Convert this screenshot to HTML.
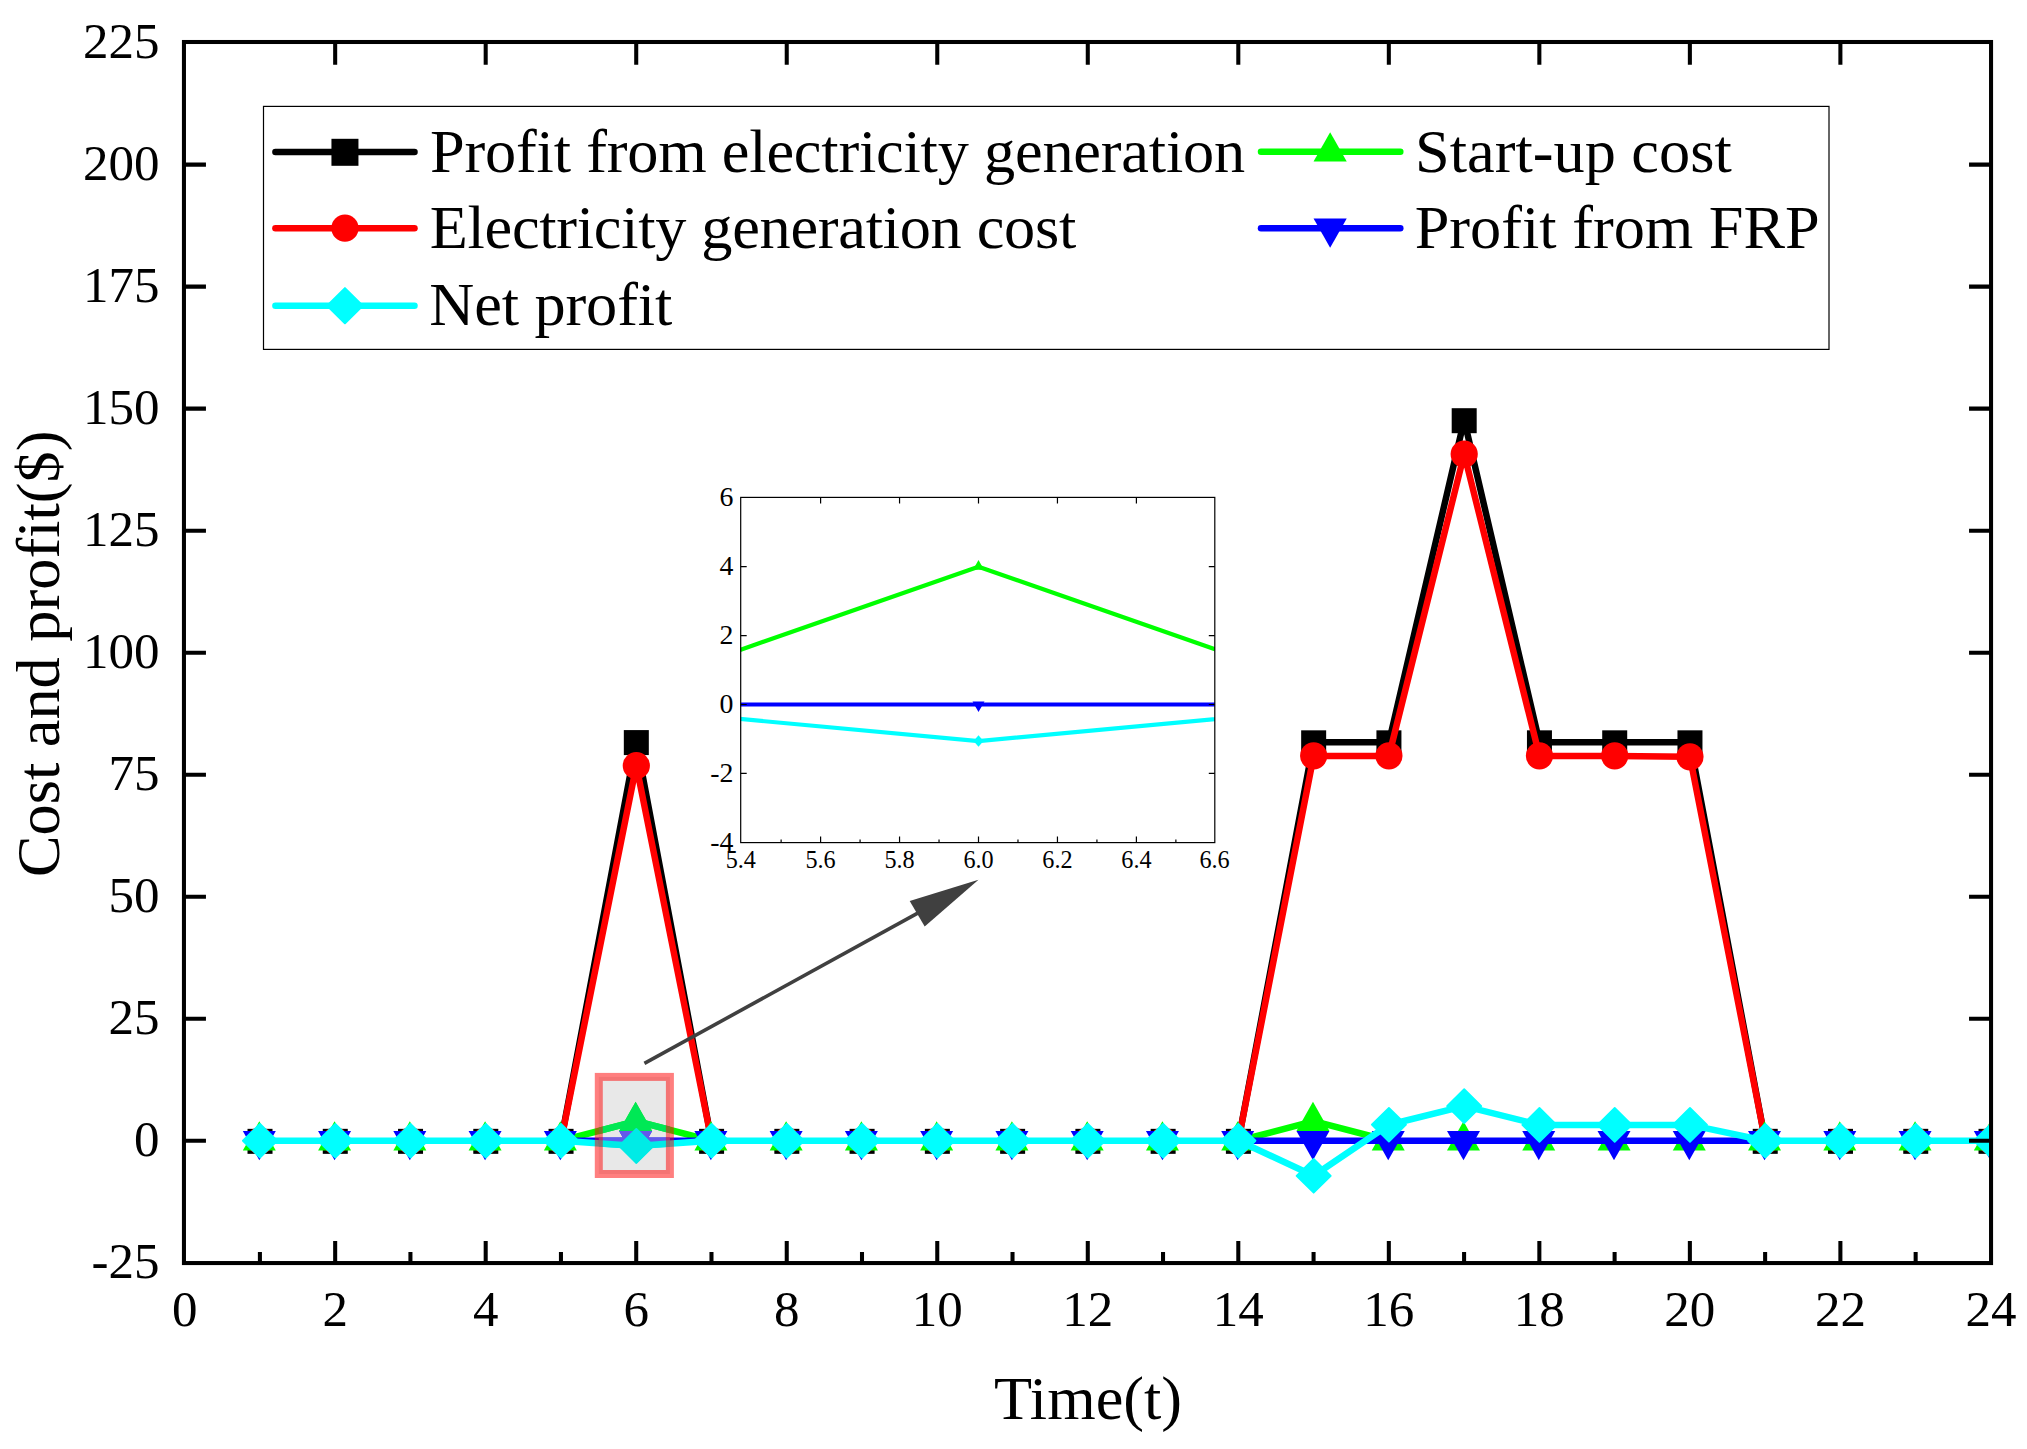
<!DOCTYPE html>
<html lang="en"><head><meta charset="utf-8"><title>Cost and profit</title>
<style>html,body{margin:0;padding:0;background:#fff}svg{display:block}text{font-family:"Liberation Serif",serif;fill:#000;font-variant-ligatures:none}</style>
</head><body>
<svg width="2027" height="1449" viewBox="0 0 2027 1449">
<rect width="2027" height="1449" fill="#fff"/>
<defs><clipPath id="pc"><rect x="183.95" y="42" width="1807.1" height="1221.05"/></clipPath>
<clipPath id="ic"><rect x="740.7" y="497.4" width="474.1" height="345.2"/></clipPath></defs>
<g clip-path="url(#pc)" stroke-linejoin="round" stroke-linecap="round">
<path fill="none" stroke="#000" stroke-width="6.5" d="M561.05 1140.74L636.32 741.99L711.58 1140.74M1238.4 1140.74L1313.66 742.23L1388.93 742.23L1464.19 420.1L1539.45 742.23L1614.71 742.23L1689.97 742.23L1765.23 1140.74"/>
<g fill="#000" stroke="#000" stroke-width="0"><rect x="247.51" y="1128.84" width="25" height="25"/><rect x="322.77" y="1128.84" width="25" height="25"/><rect x="398.03" y="1128.84" width="25" height="25"/><rect x="473.29" y="1128.84" width="25" height="25"/><rect x="548.55" y="1128.84" width="25" height="25"/><rect x="623.82" y="730.09" width="25" height="25"/><rect x="699.08" y="1128.84" width="25" height="25"/><rect x="774.34" y="1128.84" width="25" height="25"/><rect x="849.6" y="1128.84" width="25" height="25"/><rect x="924.86" y="1128.84" width="25" height="25"/><rect x="1000.12" y="1128.84" width="25" height="25"/><rect x="1075.38" y="1128.84" width="25" height="25"/><rect x="1150.64" y="1128.84" width="25" height="25"/><rect x="1225.9" y="1128.84" width="25" height="25"/><rect x="1301.16" y="730.33" width="25" height="25"/><rect x="1376.43" y="730.33" width="25" height="25"/><rect x="1451.69" y="408.2" width="25" height="25"/><rect x="1526.95" y="730.33" width="25" height="25"/><rect x="1602.21" y="730.33" width="25" height="25"/><rect x="1677.47" y="730.33" width="25" height="25"/><rect x="1752.73" y="1128.84" width="25" height="25"/><rect x="1827.99" y="1128.84" width="25" height="25"/><rect x="1903.25" y="1128.84" width="25" height="25"/><rect x="1978.51" y="1128.84" width="25" height="25"/></g>
<path fill="none" stroke="#f00" stroke-width="6.5" d="M561.05 1140.74L636.32 765.66L711.58 1140.74M1238.4 1140.74L1313.66 755.9L1388.93 755.9L1464.19 454.03L1539.45 755.9L1614.71 755.9L1689.97 756.78L1765.23 1140.74"/>
<g fill="#f00" stroke="#f00" stroke-width="0"><circle cx="260.01" cy="1140.74" r="13.6"/><circle cx="335.27" cy="1140.74" r="13.6"/><circle cx="410.53" cy="1140.74" r="13.6"/><circle cx="485.79" cy="1140.74" r="13.6"/><circle cx="561.05" cy="1140.74" r="13.6"/><circle cx="636.32" cy="765.66" r="13.6"/><circle cx="711.58" cy="1140.74" r="13.6"/><circle cx="786.84" cy="1140.74" r="13.6"/><circle cx="862.1" cy="1140.74" r="13.6"/><circle cx="937.36" cy="1140.74" r="13.6"/><circle cx="1012.62" cy="1140.74" r="13.6"/><circle cx="1087.88" cy="1140.74" r="13.6"/><circle cx="1163.14" cy="1140.74" r="13.6"/><circle cx="1238.4" cy="1140.74" r="13.6"/><circle cx="1313.66" cy="755.9" r="13.6"/><circle cx="1388.93" cy="755.9" r="13.6"/><circle cx="1464.19" cy="454.03" r="13.6"/><circle cx="1539.45" cy="755.9" r="13.6"/><circle cx="1614.71" cy="755.9" r="13.6"/><circle cx="1689.97" cy="756.78" r="13.6"/><circle cx="1765.23" cy="1140.74" r="13.6"/><circle cx="1840.49" cy="1140.74" r="13.6"/><circle cx="1915.75" cy="1140.74" r="13.6"/><circle cx="1991.01" cy="1140.74" r="13.6"/></g>
<path fill="none" stroke="#0f0" stroke-width="6.5" d="M561.05 1140.74L636.32 1121.22L711.58 1140.74M1238.4 1140.74L1313.66 1121.22L1388.93 1140.74"/>
<g fill="#0f0" stroke="#0f0" stroke-width="0"><polygon points="259.31,1121.27 275.81,1150.47 242.81,1150.47"/><polygon points="334.57,1121.27 351.07,1150.47 318.07,1150.47"/><polygon points="409.83,1121.27 426.33,1150.47 393.33,1150.47"/><polygon points="485.09,1121.27 501.59,1150.47 468.59,1150.47"/><polygon points="560.35,1121.27 576.85,1150.47 543.85,1150.47"/><polygon points="635.62,1101.75 652.12,1130.95 619.12,1130.95"/><polygon points="710.88,1121.27 727.38,1150.47 694.38,1150.47"/><polygon points="786.14,1121.27 802.64,1150.47 769.64,1150.47"/><polygon points="861.4,1121.27 877.9,1150.47 844.9,1150.47"/><polygon points="936.66,1121.27 953.16,1150.47 920.16,1150.47"/><polygon points="1011.92,1121.27 1028.42,1150.47 995.42,1150.47"/><polygon points="1087.18,1121.27 1103.68,1150.47 1070.68,1150.47"/><polygon points="1162.44,1121.27 1178.94,1150.47 1145.94,1150.47"/><polygon points="1237.7,1121.27 1254.2,1150.47 1221.2,1150.47"/><polygon points="1312.96,1101.75 1329.46,1130.95 1296.46,1130.95"/><polygon points="1388.23,1121.27 1404.73,1150.47 1371.73,1150.47"/><polygon points="1463.49,1121.27 1479.99,1150.47 1446.99,1150.47"/><polygon points="1538.75,1121.27 1555.25,1150.47 1522.25,1150.47"/><polygon points="1614.01,1121.27 1630.51,1150.47 1597.51,1150.47"/><polygon points="1689.27,1121.27 1705.77,1150.47 1672.77,1150.47"/><polygon points="1764.53,1121.27 1781.03,1150.47 1748.03,1150.47"/><polygon points="1839.79,1121.27 1856.29,1150.47 1823.29,1150.47"/><polygon points="1915.05,1121.27 1931.55,1150.47 1898.55,1150.47"/><polygon points="1990.31,1121.27 2006.81,1150.47 1973.81,1150.47"/></g>
<path fill="none" stroke="#00f" stroke-width="6.5" d="M561.05 1140.74L636.32 1140.74L711.58 1140.74M1238.4 1140.74L1313.66 1140.74L1388.93 1140.74L1464.19 1140.74L1539.45 1140.74L1614.71 1140.74L1689.97 1140.74L1765.23 1140.74"/>
<g fill="#00f" stroke="#00f" stroke-width="0"><polygon points="259.31,1160.21 275.81,1131.01 242.81,1131.01"/><polygon points="334.57,1160.21 351.07,1131.01 318.07,1131.01"/><polygon points="409.83,1160.21 426.33,1131.01 393.33,1131.01"/><polygon points="485.09,1160.21 501.59,1131.01 468.59,1131.01"/><polygon points="560.35,1160.21 576.85,1131.01 543.85,1131.01"/><polygon points="635.62,1160.21 652.12,1131.01 619.12,1131.01"/><polygon points="710.88,1160.21 727.38,1131.01 694.38,1131.01"/><polygon points="786.14,1160.21 802.64,1131.01 769.64,1131.01"/><polygon points="861.4,1160.21 877.9,1131.01 844.9,1131.01"/><polygon points="936.66,1160.21 953.16,1131.01 920.16,1131.01"/><polygon points="1011.92,1160.21 1028.42,1131.01 995.42,1131.01"/><polygon points="1087.18,1160.21 1103.68,1131.01 1070.68,1131.01"/><polygon points="1162.44,1160.21 1178.94,1131.01 1145.94,1131.01"/><polygon points="1237.7,1160.21 1254.2,1131.01 1221.2,1131.01"/><polygon points="1312.96,1160.21 1329.46,1131.01 1296.46,1131.01"/><polygon points="1388.23,1160.21 1404.73,1131.01 1371.73,1131.01"/><polygon points="1463.49,1160.21 1479.99,1131.01 1446.99,1131.01"/><polygon points="1538.75,1160.21 1555.25,1131.01 1522.25,1131.01"/><polygon points="1614.01,1160.21 1630.51,1131.01 1597.51,1131.01"/><polygon points="1689.27,1160.21 1705.77,1131.01 1672.77,1131.01"/><polygon points="1764.53,1160.21 1781.03,1131.01 1748.03,1131.01"/><polygon points="1839.79,1160.21 1856.29,1131.01 1823.29,1131.01"/><polygon points="1915.05,1160.21 1931.55,1131.01 1898.55,1131.01"/><polygon points="1990.31,1160.21 2006.81,1131.01 1973.81,1131.01"/></g>
<path fill="none" stroke="#0ff" stroke-width="6.5" d="M260.01 1140.74L335.27 1140.74L410.53 1140.74L485.79 1140.74L561.05 1140.74L636.32 1145.91L711.58 1140.74L786.84 1140.74L862.1 1140.74L937.36 1140.74L1012.62 1140.74L1087.88 1140.74L1163.14 1140.74L1238.4 1140.74L1313.66 1175.78L1388.93 1124.73L1464.19 1106.09L1539.45 1124.88L1614.71 1124.88L1689.97 1124.88L1765.23 1140.74L1840.49 1140.74L1915.75 1140.74L1991.01 1140.74"/>
<g fill="#0ff" stroke="#0ff" stroke-width="0"><polygon stroke-width="1.8" stroke-linejoin="round" points="260.01,1123.84 277.11,1140.74 260.01,1157.64 242.91,1140.74"/><polygon stroke-width="1.8" stroke-linejoin="round" points="335.27,1123.84 352.37,1140.74 335.27,1157.64 318.17,1140.74"/><polygon stroke-width="1.8" stroke-linejoin="round" points="410.53,1123.84 427.63,1140.74 410.53,1157.64 393.43,1140.74"/><polygon stroke-width="1.8" stroke-linejoin="round" points="485.79,1123.84 502.89,1140.74 485.79,1157.64 468.69,1140.74"/><polygon stroke-width="1.8" stroke-linejoin="round" points="561.05,1123.84 578.15,1140.74 561.05,1157.64 543.95,1140.74"/><polygon stroke-width="1.8" stroke-linejoin="round" points="636.32,1129.01 653.42,1145.91 636.32,1162.81 619.22,1145.91"/><polygon stroke-width="1.8" stroke-linejoin="round" points="711.58,1123.84 728.68,1140.74 711.58,1157.64 694.48,1140.74"/><polygon stroke-width="1.8" stroke-linejoin="round" points="786.84,1123.84 803.94,1140.74 786.84,1157.64 769.74,1140.74"/><polygon stroke-width="1.8" stroke-linejoin="round" points="862.1,1123.84 879.2,1140.74 862.1,1157.64 845,1140.74"/><polygon stroke-width="1.8" stroke-linejoin="round" points="937.36,1123.84 954.46,1140.74 937.36,1157.64 920.26,1140.74"/><polygon stroke-width="1.8" stroke-linejoin="round" points="1012.62,1123.84 1029.72,1140.74 1012.62,1157.64 995.52,1140.74"/><polygon stroke-width="1.8" stroke-linejoin="round" points="1087.88,1123.84 1104.98,1140.74 1087.88,1157.64 1070.78,1140.74"/><polygon stroke-width="1.8" stroke-linejoin="round" points="1163.14,1123.84 1180.24,1140.74 1163.14,1157.64 1146.04,1140.74"/><polygon stroke-width="1.8" stroke-linejoin="round" points="1238.4,1123.84 1255.5,1140.74 1238.4,1157.64 1221.3,1140.74"/><polygon stroke-width="1.8" stroke-linejoin="round" points="1313.66,1158.88 1330.76,1175.78 1313.66,1192.68 1296.57,1175.78"/><polygon stroke-width="1.8" stroke-linejoin="round" points="1388.93,1107.83 1406.03,1124.73 1388.93,1141.63 1371.83,1124.73"/><polygon stroke-width="1.8" stroke-linejoin="round" points="1464.19,1089.19 1481.29,1106.09 1464.19,1122.99 1447.09,1106.09"/><polygon stroke-width="1.8" stroke-linejoin="round" points="1539.45,1107.98 1556.55,1124.88 1539.45,1141.78 1522.35,1124.88"/><polygon stroke-width="1.8" stroke-linejoin="round" points="1614.71,1107.98 1631.81,1124.88 1614.71,1141.78 1597.61,1124.88"/><polygon stroke-width="1.8" stroke-linejoin="round" points="1689.97,1107.98 1707.07,1124.88 1689.97,1141.78 1672.87,1124.88"/><polygon stroke-width="1.8" stroke-linejoin="round" points="1765.23,1123.84 1782.33,1140.74 1765.23,1157.64 1748.13,1140.74"/><polygon stroke-width="1.8" stroke-linejoin="round" points="1840.49,1123.84 1857.59,1140.74 1840.49,1157.64 1823.39,1140.74"/><polygon stroke-width="1.8" stroke-linejoin="round" points="1915.75,1123.84 1932.85,1140.74 1915.75,1157.64 1898.65,1140.74"/><polygon stroke-width="1.8" stroke-linejoin="round" points="1991.01,1123.84 2008.11,1140.74 1991.01,1157.64 1973.91,1140.74"/></g>
</g>
<g stroke="#000" stroke-width="4.05" fill="none" stroke-linecap="butt">
<rect x="183.95" y="42" width="1807.1" height="1221.05"/>
<path d="M259.91 1263.05V1251.95M335.17 1263.05V1241.05M335.17 42V64.7M410.43 1263.05V1251.95M485.69 1263.05V1241.05M485.69 42V64.7M560.95 1263.05V1251.95M636.22 1263.05V1241.05M636.22 42V64.7M711.48 1263.05V1251.95M786.74 1263.05V1241.05M786.74 42V64.7M862 1263.05V1251.95M937.26 1263.05V1241.05M937.26 42V64.7M1012.52 1263.05V1251.95M1087.78 1263.05V1241.05M1087.78 42V64.7M1163.04 1263.05V1251.95M1238.3 1263.05V1241.05M1238.3 42V64.7M1313.57 1263.05V1251.95M1388.83 1263.05V1241.05M1388.83 42V64.7M1464.09 1263.05V1251.95M1539.35 1263.05V1241.05M1539.35 42V64.7M1614.61 1263.05V1251.95M1689.87 1263.05V1241.05M1689.87 42V64.7M1765.13 1263.05V1251.95M1840.39 1263.05V1241.05M1840.39 42V64.7M1915.65 1263.05V1251.95M183.95 1140.74H205.95M1991.05 1140.74H1969.05M183.95 1018.72H205.95M1991.05 1018.72H1969.05M183.95 896.71H205.95M1991.05 896.71H1969.05M183.95 774.69H205.95M1991.05 774.69H1969.05M183.95 652.67H205.95M1991.05 652.67H1969.05M183.95 530.65H205.95M1991.05 530.65H1969.05M183.95 408.63H205.95M1991.05 408.63H1969.05M183.95 286.62H205.95M1991.05 286.62H1969.05M183.95 164.6H205.95M1991.05 164.6H1969.05"/>
</g>
<g font-size="51" text-anchor="middle">
<text x="184.65" y="1326">0</text>
<text x="335.17" y="1326">2</text>
<text x="485.69" y="1326">4</text>
<text x="636.22" y="1326">6</text>
<text x="786.74" y="1326">8</text>
<text x="937.26" y="1326">10</text>
<text x="1087.78" y="1326">12</text>
<text x="1238.3" y="1326">14</text>
<text x="1388.83" y="1326">16</text>
<text x="1539.35" y="1326">18</text>
<text x="1689.87" y="1326">20</text>
<text x="1840.39" y="1326">22</text>
<text x="1990.91" y="1326">24</text>
</g>
<g font-size="51" text-anchor="end">
<text x="159.5" y="1278.46">-25</text>
<text x="159.5" y="1156.44">0</text>
<text x="159.5" y="1034.42">25</text>
<text x="159.5" y="912.41">50</text>
<text x="159.5" y="790.39">75</text>
<text x="159.5" y="668.37">100</text>
<text x="159.5" y="546.35">125</text>
<text x="159.5" y="424.33">150</text>
<text x="159.5" y="302.32">175</text>
<text x="159.5" y="180.3">200</text>
<text x="159.5" y="58.28">225</text>
</g>
<text x="994" y="1419.1" font-size="62.3">Time(t)</text>
<text transform="translate(58.8 877) rotate(-90)" font-size="62.3">Cost and profit($)</text>
<rect x="263.5" y="106.4" width="1565.5" height="243" fill="#fff" stroke="#000" stroke-width="1.2"/>
<line x1="275.4" y1="151.9" x2="414.5" y2="151.9" stroke="#000" stroke-width="6.5" stroke-linecap="round"/>
<g fill="#000"><rect x="331.45" y="138.8" width="27" height="27"/></g>
<text x="430.1" y="172.1" font-size="62.3" textLength="815" lengthAdjust="spacing">Profit from electricity generation</text>
<line x1="275.4" y1="228.2" x2="414.5" y2="228.2" stroke="#f00" stroke-width="6.5" stroke-linecap="round"/>
<g fill="#f00"><circle cx="344.95" cy="228.2" r="13.6"/></g>
<text x="429.8" y="248.3" font-size="62.3" textLength="646.4" lengthAdjust="spacing">Electricity generation cost</text>
<line x1="275.4" y1="305.7" x2="414.5" y2="305.7" stroke="#0ff" stroke-width="6.5" stroke-linecap="round"/>
<g fill="#0ff"><polygon stroke="#0ff" stroke-width="2" stroke-linejoin="round" points="344.95,288.15 362.65,305.7 344.95,323.25 327.25,305.7"/></g>
<text x="429.3" y="325.3" font-size="62.3" textLength="243" lengthAdjust="spacing">Net profit</text>
<line x1="1261" y1="151.8" x2="1400.3" y2="151.8" stroke="#0f0" stroke-width="6.5" stroke-linecap="round"/>
<g fill="#0f0"><polygon points="1330.15,132.33 1346.75,161.53 1313.55,161.53"/></g>
<text x="1415.1" y="172.1" font-size="62.3">Start-up cost</text>
<line x1="1261" y1="228.2" x2="1400.3" y2="228.2" stroke="#00f" stroke-width="6.5" stroke-linecap="round"/>
<g fill="#00f"><polygon points="1330.15,247.67 1346.75,218.47 1313.55,218.47"/></g>
<text x="1414.7" y="248.3" font-size="62.3">Profit from FRP</text>
<rect x="740.7" y="497.4" width="474.1" height="345.2" fill="#fff"/>
<g clip-path="url(#ic)" fill="none" stroke-width="4.2" stroke-linejoin="miter">
<polyline stroke="#0f0" points="583.75,704.5 978.5,566.7 1373.25,704.5"/>
<polygon fill="#0f0" stroke="none" points="978.5,560 984,569.7 973,569.7"/>
<polyline stroke="#00f" points="583.75,704.5 1373.25,704.5"/>
<polygon fill="#00f" stroke="none" points="978.5,712.1 984.5,701.5 972.5,701.5"/>
<polyline stroke="#0ff" points="583.75,704.5 978.5,741.02 1373.25,704.5"/>
<polygon fill="#0ff" stroke="none" points="978.5,735.22 983.5,741.02 978.5,746.82 973.5,741.02"/>
</g>
<g stroke="#000" stroke-width="1.2" fill="none">
<rect x="740.7" y="497.4" width="474.1" height="345.2"/>
<path d="M781.12 842.6v-3M820.6 842.6v-6M820.6 497.4v6M860.08 842.6v-3M899.55 842.6v-6M899.55 497.4v6M939.03 842.6v-3M978.5 842.6v-6M978.5 497.4v6M1017.98 842.6v-3M1057.45 842.6v-6M1057.45 497.4v6M1096.93 842.6v-3M1136.4 842.6v-6M1136.4 497.4v6M1175.88 842.6v-3M740.7 566.7h6M1214.8 566.7h-6M740.7 635.6h6M1214.8 635.6h-6M740.7 704.5h6M1214.8 704.5h-6M740.7 773.4h6M1214.8 773.4h-6"/>
</g>
<g font-size="27.8" text-anchor="end">
<text x="733.3" y="506.4">6</text>
<text x="733.3" y="575.3">4</text>
<text x="733.3" y="644.2">2</text>
<text x="733.3" y="713.1">0</text>
<text x="733.3" y="782">-2</text>
<text x="733.3" y="850.9">-4</text>
</g>
<g font-size="24.2" text-anchor="middle">
<text x="740.8" y="868.1">5.4</text>
<text x="820.6" y="868.1">5.6</text>
<text x="899.55" y="868.1">5.8</text>
<text x="978.5" y="868.1">6.0</text>
<text x="1057.45" y="868.1">6.2</text>
<text x="1136.4" y="868.1">6.4</text>
<text x="1214.6" y="868.1">6.6</text>
</g>
<g fill="#404040" stroke="none">
<line x1="644.4" y1="1063.4" x2="920" y2="911.9" stroke="#404040" stroke-width="3.6"/>
<polygon points="978.5,879.7 909.7,900.9 924.7,926.6"/>
</g>
<rect x="598.8" y="1076.9" width="71.1" height="97.1" fill="rgba(128,128,128,0.18)"/>
<clipPath id="hc"><rect x="598.8" y="1076.9" width="71.1" height="97.1"/></clipPath>
<g clip-path="url(#hc)" stroke-linejoin="round" stroke-linecap="round">
<polyline fill="none" stroke="#00e855" stroke-width="6.5" points="561.05,1140.74 636.32,1121.22 711.58,1140.74"/>
<g fill="#00e855" stroke="#00e855" stroke-width="0"><polygon points="635.62,1101.75 652.12,1130.95 619.12,1130.95"/></g>
<polyline fill="none" stroke="#645aeb" stroke-width="6.5" points="561.05,1140.74 636.32,1140.74 711.58,1140.74"/>
<g fill="#645aeb" stroke="#645aeb" stroke-width="0"><polygon points="635.62,1160.21 652.12,1131.01 619.12,1131.01"/></g>
<polyline fill="none" stroke="#00ebe6" stroke-width="6.5" points="561.05,1140.74 636.32,1145.91 711.58,1140.74"/>
<g fill="#00ebe6" stroke="#00ebe6" stroke-width="0"><polygon stroke-width="1.8" stroke-linejoin="round" points="636.32,1129.01 653.42,1145.91 636.32,1162.81 619.22,1145.91"/></g>
</g>
<rect x="598.8" y="1076.9" width="71.1" height="97.1" fill="none" stroke="rgba(255,0,0,0.5)" stroke-width="8"/>
</svg>
</body></html>
